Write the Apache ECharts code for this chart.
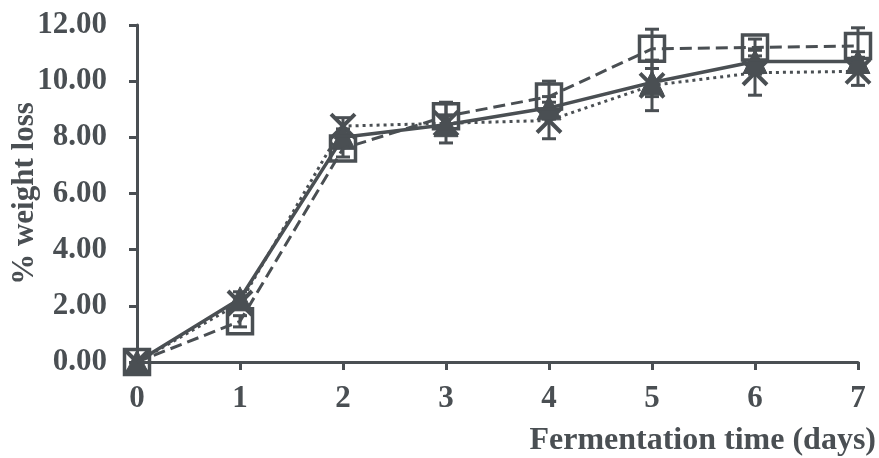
<!DOCTYPE html>
<html>
<head>
<meta charset="utf-8">
<script src="https://cdn.jsdelivr.net/npm/echarts@6/dist/echarts.min.js"></script>
<style>html,body{margin:0;padding:0;background:#fff}#c{width:879px;height:458px}</style>
</head>
<body>
<div id="c"></div>
<script>
var days = [0, 1, 2, 3, 4, 5, 6, 7];
var yTicks = [0, 2, 4, 6, 8, 10, 12];
// solid line, filled triangles
var solidVals = [0, 2.25, 8.0, 8.45, 9.05, 9.95, 10.7, 10.7];
var solidErr  = [0, 0.25, 0.3, 0.35, 0.4, 0.5, 0.45, 0.35];
// dashed line, open squares
var dashedVals = [0, 1.45, 7.6, 8.75, 9.45, 11.15, 11.2, 11.25];
var dashedErr  = [0, 0.2, 0.3, 0.5, 0.55, 0.7, 0.3, 0.65];
// dotted line, crosses
var dottedVals = [0, 2.1, 8.4, 8.5, 8.6, 9.85, 10.3, 10.35];
var dottedErr  = [0, 0.2, 0.3, 0.7, 0.65, 0.9, 0.8, 0.5];

var C = '#4a4f53';
var FONT = '"Liberation Serif", "DejaVu Serif", serif';

function pairs(vals) { return days.map(function (d, i) { return [d, vals[i]]; }); }
function errData(vals, errs) { return days.map(function (d, i) { return [d, vals[i], errs[i]]; }); }

function errSeries(vals, errs) {
  return {
    type: 'custom',
    data: errData(vals, errs),
    z: 1,
    silent: true,
    renderItem: function (params, api) {
      var x = api.value(0), y = api.value(1), e = api.value(2);
      if (!e) return;
      var top = api.coord([x, y + e]);
      var bot = api.coord([x, y - e]);
      var w = 7;
      var st = { stroke: C, lineWidth: 3, fill: 'none' };
      return {
        type: 'group',
        children: [
          { type: 'line', shape: { x1: top[0], y1: top[1], x2: bot[0], y2: bot[1] }, style: st },
          { type: 'line', shape: { x1: top[0] - w, y1: top[1], x2: top[0] + w, y2: top[1] }, style: st },
          { type: 'line', shape: { x1: bot[0] - w, y1: bot[1], x2: bot[0] + w, y2: bot[1] }, style: st }
        ]
      };
    }
  };
}

var chart = echarts.init(document.getElementById('c'), null, { renderer: 'canvas' });
chart.setOption({
  backgroundColor: '#ffffff',
  animation: false,
  grid: { left: 137, right: 21, top: 25, bottom: 96, containLabel: false, outerBoundsMode: 'none' },
  xAxis: {
    type: 'value', min: 0, max: 7, interval: 1,
    name: 'Fermentation time (days)',
    nameLocation: 'end', nameGap: 18, nameMoveOverlap: false,
    nameTextStyle: { color: C, fontFamily: FONT, fontWeight: 'bold', fontSize: 32, align: 'right', verticalAlign: 'top', padding: [63, 0, 0, 0] },
    axisLine: { lineStyle: { color: C, width: 3 } },
    axisTick: { show: true, length: 8, lineStyle: { color: C, width: 3 } },
    splitLine: { show: false },
    axisLabel: { color: C, fontFamily: FONT, fontWeight: 'bold', fontSize: 31, margin: 21, alignMinLabel: 'center', alignMaxLabel: 'center', hideOverlap: false, formatter: function (v) { return String(v); } }
  },
  yAxis: {
    type: 'value', min: yTicks[0], max: yTicks[yTicks.length - 1], interval: 2,
    name: '% weight loss',
    nameLocation: 'middle', nameGap: 97, nameMoveOverlap: false,
    nameTextStyle: { color: C, fontFamily: FONT, fontWeight: 'bold', fontSize: 31 },
    axisLine: { show: true, lineStyle: { color: C, width: 3 } },
    axisTick: { show: true, length: 8, lineStyle: { color: C, width: 3 } },
    splitLine: { show: false },
    axisLabel: { color: C, fontFamily: FONT, fontWeight: 'bold', fontSize: 31, margin: 30, formatter: function (v) { return v.toFixed(2); } }
  },
  series: [
    errSeries(dottedVals, dottedErr),
    errSeries(solidVals, solidErr),
    errSeries(dashedVals, dashedErr),
    {
      type: 'line', data: pairs(dottedVals), z: 3,
      lineStyle: { color: C, width: 3, type: [3, 4] },
      symbol: 'path://M0,0L10,10M10,0L0,10', symbolSize: 24,
      itemStyle: { color: 'none', borderColor: C, borderWidth: 4 }
    },
    {
      type: 'line', data: pairs(solidVals), z: 4,
      lineStyle: { color: C, width: 3.5, type: 'solid' },
      symbol: 'triangle', symbolSize: 24,
      itemStyle: { color: C, borderColor: C, borderWidth: 1 }
    },
    {
      type: 'line', data: pairs(dashedVals), z: 5,
      lineStyle: { color: C, width: 3, type: [12, 6] },
      symbol: 'rect', symbolSize: 25,
      itemStyle: { color: 'rgba(255,255,255,0)', borderColor: C, borderWidth: 3.5 }
    }
  ]
});
</script>
</body>
</html>
